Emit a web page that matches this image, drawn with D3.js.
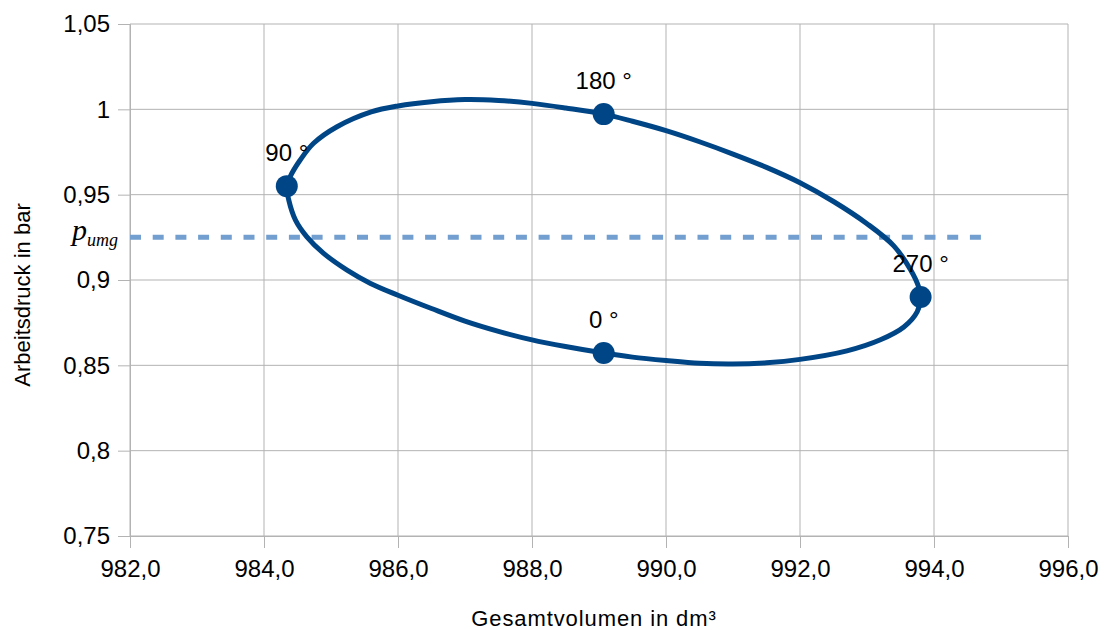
<!DOCTYPE html>
<html>
<head>
<meta charset="utf-8">
<script src="https://cdn.jsdelivr.net/npm/d3@7"></script>
<style>
  body { margin: 0; background: #fff; }
  text { font-family: "Liberation Sans", Arial, sans-serif; fill: #000; }
</style>
</head>
<body>
<div class="chart"></div>
<script>
// p-V Diagramm, Werte
const volume = [984.34, 984.39, 984.54, 984.74, 985.09, 985.6, 986.0, 986.5, 987.0, 987.5,
  988.0, 988.5, 989.07, 989.5, 990.0, 990.5, 991.0, 991.5, 992.0, 992.5,
  993.0, 993.4, 993.65, 993.77, 993.80, 993.75, 993.55, 993.2, 992.7, 992.0,
  991.5, 991.0, 990.5, 990.0, 989.5, 989.07, 988.5, 988.0, 987.5, 987.0,
  986.5, 986.0, 985.59, 985.24, 984.89, 984.64, 984.47, 984.37]
const pressure = [0.9550, 0.9605, 0.9703, 0.9801, 0.9898, 0.9985, 1.0020, 1.0045, 1.0057, 1.0052,
  1.0035, 1.0008, 0.9972, 0.9930, 0.9875, 0.9810, 0.9738, 0.9660, 0.9570, 0.9460,
  0.9330, 0.9200, 0.9060, 0.8960, 0.8900, 0.8815, 0.8725, 0.8650, 0.8585, 0.8535,
  0.8515, 0.8508, 0.8512, 0.8528, 0.8548, 0.8572, 0.8610, 0.8649, 0.8699, 0.8759,
  0.8833, 0.8911, 0.8980, 0.9058, 0.9156, 0.9253, 0.9351, 0.9468]

const angleLabels = ['0 °', '90 °', '180 °', '270 °']
const angleVolume = [989.07, 984.34, 989.07, 993.80]
const anglePressure = [0.8572, 0.9550, 0.9972, 0.8900]

const pUmg = 0.925
const pUmgEnd = 994.7

const xTicks = [982, 984, 986, 988, 990, 992, 994, 996]
const yTicks = [0.75, 0.8, 0.85, 0.9, 0.95, 1, 1.05]

const margin = {top: 24, right: 41, bottom: 94, left: 130}
const width = 1109 - margin.left - margin.right
const height = 630 - margin.top - margin.bottom

const svg = d3.select('.chart')
  .append('svg')
    .attr('width', width + margin.left + margin.right)
    .attr('height', height + margin.top + margin.bottom)
  .append('g')
    .attr('transform', `translate(${margin.left}, ${margin.top})`)

const x = d3.scaleLinear().domain([982, 996]).range([0, width])
const y = d3.scaleLinear().domain([0.75, 1.05]).range([height, 0])

const comma = s => s.replace('.', ',')
const grey = '#b3b3b3'

// Gitter
svg.append('g')
  .selectAll('line')
  .data(xTicks)
  .enter().append('line')
    .attr('x1', d => x(d)).attr('x2', d => x(d))
    .attr('y1', 0).attr('y2', height)
    .attr('stroke', grey)
svg.append('g')
  .selectAll('line')
  .data(yTicks)
  .enter().append('line')
    .attr('x1', 0).attr('x2', width)
    .attr('y1', d => y(d)).attr('y2', d => y(d))
    .attr('stroke', grey)

const xAxis = svg.append('g')
  .attr('transform', `translate(0, ${height})`)
  .call(d3.axisBottom(x).tickValues(xTicks).tickSize(12).tickPadding(12)
    .tickFormat(d => comma(d3.format('.1f')(d))))
const yAxis = svg.append('g')
  .call(d3.axisLeft(y).tickValues(yTicks).tickSize(12).tickPadding(8)
    .tickFormat(d => comma(String(+d.toFixed(2)))))

;[xAxis, yAxis].forEach(a => {
  a.selectAll('path, line').attr('stroke', grey)
  a.selectAll('text').style('font-size', '24px').attr('fill', '#000')
})

// Umgebungsdruck
svg.append('line')
  .attr('x1', x(982)).attr('x2', x(pUmgEnd))
  .attr('y1', y(pUmg)).attr('y2', y(pUmg))
  .attr('stroke', '#729fcf')
  .attr('stroke-width', 5)
  .attr('stroke-dasharray', '11 11.7')

const lbl = svg.append('text')
  .attr('x', -58)
  .attr('y', y(pUmg) + 3)
  .style('font-family', '"Liberation Serif", serif')
  .style('font-style', 'italic')
lbl.append('tspan').style('font-size', '30px').text('p')
lbl.append('tspan').style('font-size', '18px').attr('dy', 6).text('umg')

// Kreisprozess
const pts = volume.map((v, i) => [v, pressure[i]])
const line = d3.line()
  .x(d => x(d[0]))
  .y(d => y(d[1]))
  .curve(d3.curveCatmullRomClosed.alpha(0.5))

svg.append('path')
  .attr('d', line(pts))
  .attr('fill', 'none')
  .attr('stroke', '#004586')
  .attr('stroke-width', 5)

const marks = angleLabels.map((l, i) => ({label: l, v: angleVolume[i], p: anglePressure[i]}))

svg.selectAll('.dot')
  .data(marks)
  .enter().append('circle')
    .attr('class', 'dot')
    .attr('cx', d => x(d.v))
    .attr('cy', d => y(d.p))
    .attr('r', 11)
    .attr('fill', '#004586')

svg.selectAll('.angle')
  .data(marks)
  .enter().append('text')
    .attr('class', 'angle')
    .attr('x', d => x(d.v))
    .attr('y', d => y(d.p) - 25)
    .attr('text-anchor', 'middle')
    .style('font-size', '24px')
    .text(d => d.label)

// Achsentitel
svg.append('text')
  .attr('x', width / 2 - 5)
  .attr('y', height + 90)
  .attr('text-anchor', 'middle')
  .style('font-size', '22px')
  .style('letter-spacing', '0.9px')
  .text('Gesamtvolumen in dm³')

svg.append('text')
  .attr('transform', `translate(${30 - margin.left}, ${295 - margin.top}) rotate(-90)`)
  .attr('text-anchor', 'middle')
  .style('font-size', '22px')
  .text('Arbeitsdruck in bar')
</script>
</body>
</html>
